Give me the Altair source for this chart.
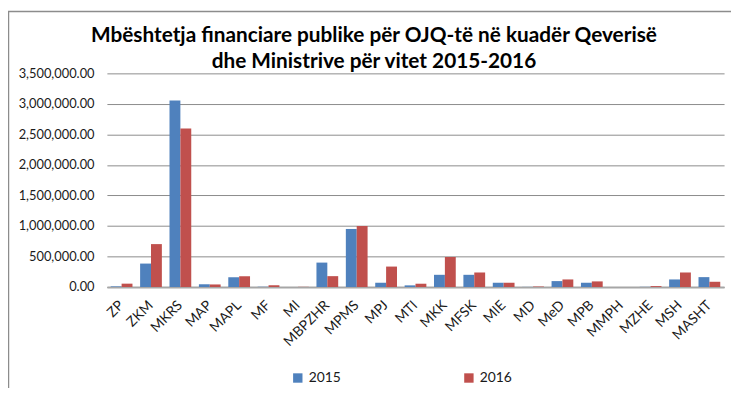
import altair as alt
import pandas as pd

categories = ["ZP", "ZKM", "MKRS", "MAP", "MAPL", "MF", "MI", "MBPZHR", "MPMS", "MPJ",
              "MTI", "MKK", "MFSK", "MIE", "MD", "MeD", "MPB", "MMPH", "MZHE", "MSH", "MASHT"]
v2015 = [10000, 384000, 3055000, 45000, 162000, 5000, 2000, 400000, 951000, 70000,
         27000, 200000, 200000, 70000, 2000, 97000, 70000, 0, 3000, 124000, 162000]
v2016 = [55000, 703000, 2596000, 42000, 178000, 27000, 3000, 178000, 1000000, 335000,
         54000, 492000, 238000, 70000, 8000, 124000, 92000, 0, 15000, 238000, 86000]
years = ["2015", "2016"]
colors = ["#4F81BD", "#C0504D"]
title_lines = ["Mbështetja financiare publike për OJQ-të në kuadër Qeverisë",
               "dhe Ministrive për vitet 2015-2016"]
y_ticks = [0, 500000, 1000000, 1500000, 2000000, 2500000, 3000000, 3500000]

rows = []
for c, a, b in zip(categories, v2015, v2016):
    rows.append({"cat": c, "year": years[0], "value": a})
    rows.append({"cat": c, "year": years[1], "value": b})
df = pd.DataFrame(rows)

FONT = "Lato"
W, H = 624, 216

bars = alt.Chart(df).mark_bar().encode(
    x=alt.X("cat:N", sort=categories, title=None,
            scale=alt.Scale(paddingInner=0.26, paddingOuter=0.13),
            axis=alt.Axis(labelAngle=-45, labelAlign="right", labelBaseline="middle",
                          labelFont=FONT, labelFontSize=14, labelColor="#1a1a1a",
                          ticks=False, labelPadding=16, domainColor="#a6a6a6",
                          domainWidth=2, grid=False)),
    xOffset=alt.XOffset("year:N", scale=alt.Scale(paddingInner=0, paddingOuter=0)),
    y=alt.Y("value:Q", title=None,
            scale=alt.Scale(domain=[0, 3500000], nice=False),
            axis=alt.Axis(values=y_ticks, format=",.2f", labelFont=FONT, labelFontSize=13,
                          labelColor="#1a1a1a", ticks=False, domain=False, labelPadding=13,
                          gridColor="#8c8c8c", gridWidth=1)),
    color=alt.Color("year:N", scale=alt.Scale(domain=years, range=colors),
                    legend=alt.Legend(title=None, orient="none", legendX=186, legendY=301,
                                      direction="horizontal", columns=2, columnPadding=122,
                                      symbolType="square", symbolSize=90, symbolStrokeWidth=0,
                                      labelFont=FONT, labelFontSize=14, labelColor="#1a1a1a",
                                      symbolOffset=0, labelOffset=4)),
)

# decorative chart frame (left and top border of the original chart box)
frame_left = alt.Chart(pd.DataFrame({"k": [0]})).mark_rule(
    color="#8c8c8c", strokeWidth=1.5).encode(
    x=alt.value(-99.5), y=alt.value(-63), y2=alt.value(400))
frame_top = alt.Chart(pd.DataFrame({"x0": [-100], "x1": [W + 15]})).mark_rule(
    color="#8c8c8c", strokeWidth=1.5).encode(
    x=alt.X("x0:Q", scale=alt.Scale(domain=[0, W], nice=False, zero=False), axis=None),
    x2="x1:Q",
    y=alt.value(-62.5))

title1 = alt.Chart(pd.DataFrame({"t": [title_lines[0]]})).mark_text(
    font=FONT, fontSize=21, fontWeight="bold", color="#000000", align="center",
    baseline="alphabetic").encode(text="t:N", x=alt.value(270), y=alt.value(-32))
title2 = alt.Chart(pd.DataFrame({"t": [title_lines[1]]})).mark_text(
    font=FONT, fontSize=21, fontWeight="bold", color="#000000", align="center",
    baseline="alphabetic").encode(text="t:N", x=alt.value(270), y=alt.value(-5.5))

chart = alt.layer(bars, frame_left, frame_top, title1, title2).resolve_scale(
    x="independent"
).properties(
    width=W, height=H,
    autosize=alt.AutoSizeParams(type="none"),
    padding={"left": 100, "top": 64, "right": 7, "bottom": 100},
).configure_view(stroke=None)

chart.save("out.html", embed_options={"renderer": "svg", "actions": False})
